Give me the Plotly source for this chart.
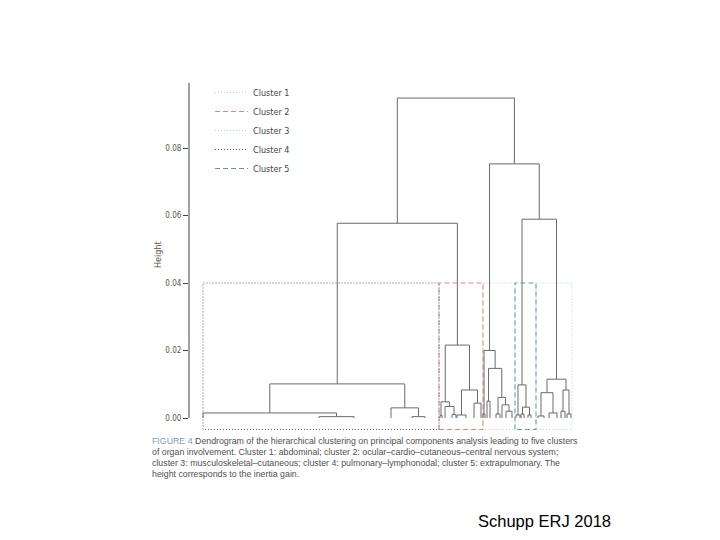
import plotly.graph_objects as go

# ---------------- data ----------------
# leaf positions along the dendrogram (leaf-order units)
leaf_pos = [0, 116, 151, 188, 209, 222,
            237, 239, 242, 249, 253, 254, 263, 271, 278,
            280, 282, 284, 287, 293, 297, 299, 303, 309,
            313, 317, 318, 321, 325, 328,
            335, 341, 346, 354, 358, 362, 364, 368]

# linkage: (child a, child b, height); ids >= len(leaf_pos) refer to earlier merges
merges = [
    (1, 2, 0.0004), (0, 38, 0.0015), (4, 5, 0.0004), (3, 40, 0.0030), (39, 41, 0.0101),
    (6, 7, 0.0008), (9, 10, 0.0010), (8, 44, 0.0034), (43, 45, 0.0048),
    (11, 12, 0.0009), (13, 14, 0.0044), (47, 48, 0.0083), (46, 49, 0.0216),
    (15, 16, 0.0012), (17, 18, 0.0050), (19, 20, 0.0012), (22, 23, 0.0020),
    (21, 54, 0.0039), (53, 55, 0.0061), (52, 56, 0.0147), (51, 57, 0.0200),
    (24, 25, 0.0009), (26, 27, 0.0012), (28, 29, 0.0009), (60, 61, 0.0032), (59, 62, 0.0098),
    (30, 31, 0.0006), (32, 33, 0.0015), (64, 65, 0.0075), (34, 35, 0.0020),
    (36, 37, 0.0012), (67, 68, 0.0083), (66, 69, 0.0115),
    (63, 70, 0.0589), (58, 71, 0.0753), (42, 50, 0.0577), (73, 72, 0.0948),
]

cut_height = 0.04
box_floor = -0.0034
# cluster boxes, left to right (leaf-order boundaries)
box_clusters = ["Cluster 4", "Cluster 2", "Cluster 1", "Cluster 5", "Cluster 3"]
box_bounds = [0, 236, 280, 312, 333, 369]

legend_names = ["Cluster 1", "Cluster 2", "Cluster 3", "Cluster 4", "Cluster 5"]
yticks = [0.00, 0.02, 0.04, 0.06, 0.08]
ytick_text = ["0.00", "0.02", "0.04", "0.06", "0.08"]

caption_lines = [
    "<span style='color:#7f9fb3'>FIGURE 4</span> Dendrogram of the hierarchical clustering on principal components analysis leading to five clusters",
    "of organ involvement. Cluster 1: abdominal; cluster 2: ocular–cardio–cutaneous–central nervous system;",
    "cluster 3: musculoskeletal–cutaneous; cluster 4: pulmonary–lymphonodal; cluster 5: extrapulmonary. The",
    "height corresponds to the inertia gain.",
]
source_text = "Schupp ERJ 2018"

# ---------------- styles ----------------
styles = {
    "Cluster 1": dict(color="#b5d9b0", dash="1px,2px"),
    "Cluster 2": dict(color="#d98585", dash="5px,3px"),
    "Cluster 3": dict(color="#a5d5e2", dash="1px,2px"),
    "Cluster 4": dict(color="#5a5a5a", dash="1px,2px"),
    "Cluster 5": dict(color="#7090ab", dash="5px,3px"),
}
FONT = "Liberation Sans Narrow, DejaVu Sans Condensed, Liberation Sans, Arial"

OFF = 8  # page body margin compensation
W, H = 720, 540
ML, MR, MT, MB = 189 - OFF, 145 + OFF, 80 - OFF, 108 + OFF
PW, PH = W - ML - MR, H - MT - MB


def px_x(px):
    return (px - OFF - ML) / PW


def px_y(py):
    return (H - MB - (py - OFF)) / PH


# ---------------- dendrogram geometry ----------------
n = len(leaf_pos)
node_x = list(leaf_pos)
node_h = [0.0] * n
seg_x, seg_y = [], []
for a, b, h in merges:
    xa, xb = node_x[a], node_x[b]
    seg_x += [xa, xa, xb, xb, None]
    seg_y += [node_h[a], h, h, node_h[b], None]
    node_x.append((xa + xb) / 2)
    node_h.append(h)

fig = go.Figure()

# cluster boxes (legend in cluster order)
for name in legend_names:
    i = box_clusters.index(name)
    x0, x1 = box_bounds[i], box_bounds[i + 1]
    st = styles[name]
    fig.add_trace(go.Scatter(
        x=[x0, x0, x1, x1, x0], y=[box_floor, cut_height, cut_height, box_floor, box_floor],
        mode="lines", name=name,
        line=dict(color=st["color"], dash=st["dash"], width=1),
        hoverinfo="skip",
    ))

fig.add_trace(go.Scatter(
    x=seg_x, y=seg_y, mode="lines", showlegend=False,
    line=dict(color="#6a6a6a", width=1), hoverinfo="skip",
))

# y axis line from 0 up to the top
fig.add_shape(type="line", xref="paper", yref="y", x0=0, x1=0, y0=0, y1=0.0993,
              line=dict(color="#444444", width=1))

annotations = [
    dict(text="Height", textangle=-90, xref="paper", yref="paper",
         x=px_x(158), y=px_y(255), xanchor="center", yanchor="middle",
         showarrow=False, font=dict(family=FONT, size=9, color="#555555")),
    dict(text=source_text, xref="paper", yref="paper", x=px_x(613), y=px_y(521),
         xanchor="right", yanchor="middle", showarrow=False,
         font=dict(family="Liberation Sans, Arial", size=16.5, color="#000000")),
]
for k, line in enumerate(caption_lines):
    annotations.append(dict(
        text=line, xref="paper", yref="paper", x=px_x(150), y=px_y(441 + 11 * k),
        xanchor="left", yanchor="middle", showarrow=False, align="left",
        font=dict(family="Liberation Sans, Arial", size=8.8, color="#505050")))

fig.update_layout(
    width=W, height=H, autosize=False,
    margin=dict(l=ML, r=MR, t=MT, b=MB),
    paper_bgcolor="white", plot_bgcolor="white",
    showlegend=True,
    legend=dict(x=px_x(210), y=px_y(78), xanchor="left", yanchor="top",
                bgcolor="rgba(0,0,0,0)", font=dict(family=FONT, size=9, color="#444444"),
                itemwidth=33, tracegroupgap=0),
    xaxis=dict(visible=False, range=[-14, 372], fixedrange=True),
    yaxis=dict(range=[-14 / 3375, 338 / 3375], tickvals=yticks, ticktext=ytick_text,
               ticks="outside", ticklen=5, tickcolor="#444444", tickwidth=1,
               showgrid=False, zeroline=False, showline=False,
               tickfont=dict(family=FONT, size=8, color="#555555")),
    annotations=annotations,
)

fig.write_html("out.html")
